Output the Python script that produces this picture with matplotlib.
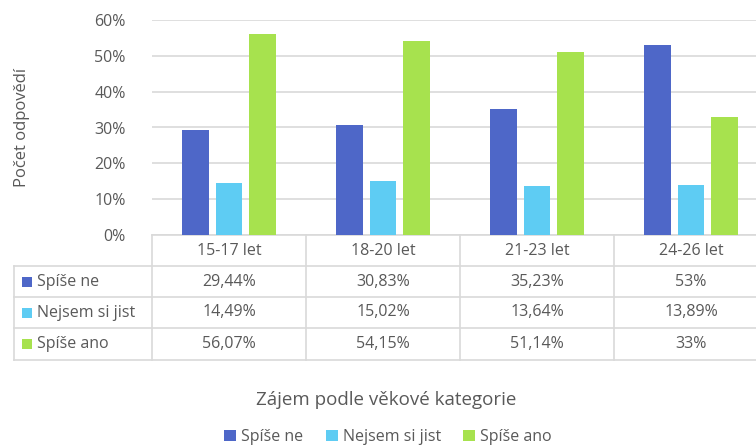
import matplotlib
matplotlib.use("Agg")
import matplotlib.pyplot as plt
import matplotlib.transforms as mtransforms
from matplotlib.lines import Line2D
from matplotlib.patches import Rectangle

categories = ["15-17 let", "18-20 let", "21-23 let", "24-26 let"]
series_names = ["Spíše ne", "Nejsem si jist", "Spíše ano"]
spise_ne = [29.44, 30.83, 35.23, 53.0]
nejsem_si_jist = [14.49, 15.02, 13.64, 13.89]
spise_ano = [56.07, 54.15, 51.14, 33.0]
table_text = [
    ["29,44%", "30,83%", "35,23%", "53%"],
    ["14,49%", "15,02%", "13,64%", "13,89%"],
    ["56,07%", "54,15%", "51,14%", "33%"],
]
y_ticks = [0, 10, 20, 30, 40, 50, 60]

colors = ["#4E67C8", "#5ECCF3", "#A7E24E"]
text_color = "#595959"
grid_color = "#D9D9D9"

plt.rcParams["font.family"] = ["Open Sans", "DejaVu Sans"]

W, H = 756, 448
fig = plt.figure(figsize=(W / 100, H / 100), dpi=100)

# plot area in pixel coordinates (the last column runs past the right edge)
left_px, right_px, top_px, bottom_px = 152, 768, 20, 235
ax = fig.add_axes([left_px / W, 1 - bottom_px / H,
                   (right_px - left_px) / W, (bottom_px - top_px) / H])
ax.set_xlim(-0.5, len(categories) - 0.5)
ax.set_ylim(0, 60)

bar_w = 0.17
step = 0.218
all_series = [spise_ne, nejsem_si_jist, spise_ano]
x = list(range(len(categories)))
for i, (vals, c) in enumerate(zip(all_series, colors)):
    ax.bar([xi + (i - 1) * step for xi in x], vals, width=bar_w, color=c,
           zorder=3)

fs = 11.5
ax.set_yticks(y_ticks)
ax.set_yticklabels([f"{t}%" for t in y_ticks])
ax.tick_params(axis="y", length=0, pad=19, labelsize=fs, labelcolor=text_color)
ax.set_xticks([])
ax.grid(axis="y", color=grid_color, linewidth=1.2, zorder=0)
for s in ax.spines.values():
    s.set_visible(False)

ax.set_ylabel("Počet odpovědí", fontsize=12, color=text_color)
ax.yaxis.set_label_coords((30 - left_px) / (right_px - left_px), 0.5)

# data table under the plot
trans = mtransforms.blended_transform_factory(ax.transData, ax.transAxes)
ph = bottom_px - top_px
row_edges_px = [235, 266, 297, 328, 360]
row_edges = [-(p - bottom_px) / ph for p in row_edges_px]
left_col_x = -0.5 - (left_px - 14) / ((right_px - left_px) / len(categories))

line_kw = dict(color=grid_color, linewidth=1.2, transform=trans, clip_on=False)
# horizontal lines
ax.add_line(Line2D([-0.5, 3.5], [row_edges[0]] * 2, **line_kw))
for yv in row_edges[1:]:
    ax.add_line(Line2D([left_col_x, 3.5], [yv, yv], **line_kw))
# vertical lines
for xv in [-0.5, 0.5, 1.5, 2.5, 3.5]:
    ax.add_line(Line2D([xv, xv], [row_edges[0], row_edges[-1]], **line_kw))
ax.add_line(Line2D([left_col_x, left_col_x], [row_edges[1], row_edges[-1]], **line_kw))

hdr_y = (row_edges[0] + row_edges[1]) / 2
for xi, cat in zip(x, categories):
    ax.text(xi, hdr_y, cat, transform=trans, ha="center", va="center",
            fontsize=fs, color=text_color, clip_on=False)

for r in range(3):
    yc = (row_edges[r + 1] + row_edges[r + 2]) / 2
    for xi in x:
        ax.text(xi, yc, table_text[r][xi], transform=trans, ha="center",
                va="center", fontsize=fs, color=text_color, clip_on=False)
    # legend key + series name in the left column
    key_px = 10
    fx = 22 / W
    fy = 1 - (row_edges_px[r + 1] + row_edges_px[r + 2]) / 2 / H
    fig.add_artist(Rectangle((fx, fy - key_px / 2 / H), key_px / W, key_px / H,
                             facecolor=colors[r], edgecolor="none",
                             transform=fig.transFigure))
    fig.text(37 / W, fy, series_names[r], ha="left", va="center", fontsize=fs,
             color=text_color)

# axis title
fig.text(386 / W, 1 - 400 / H, "Zájem podle věkové kategorie", ha="center",
         va="center", fontsize=13.5, color=text_color)

# legend at the bottom
handles = [Rectangle((0, 0), 1, 1, facecolor=c, edgecolor="none") for c in colors]
fig.legend(handles, series_names, loc="center", bbox_to_anchor=(388 / W, 1 - 437 / H),
           ncol=3, frameon=False, fontsize=fs, labelcolor=text_color,
           handlelength=0.75, handleheight=0.75, handletextpad=0.3,
           columnspacing=1.4)

fig.savefig("out.png", dpi=100)
